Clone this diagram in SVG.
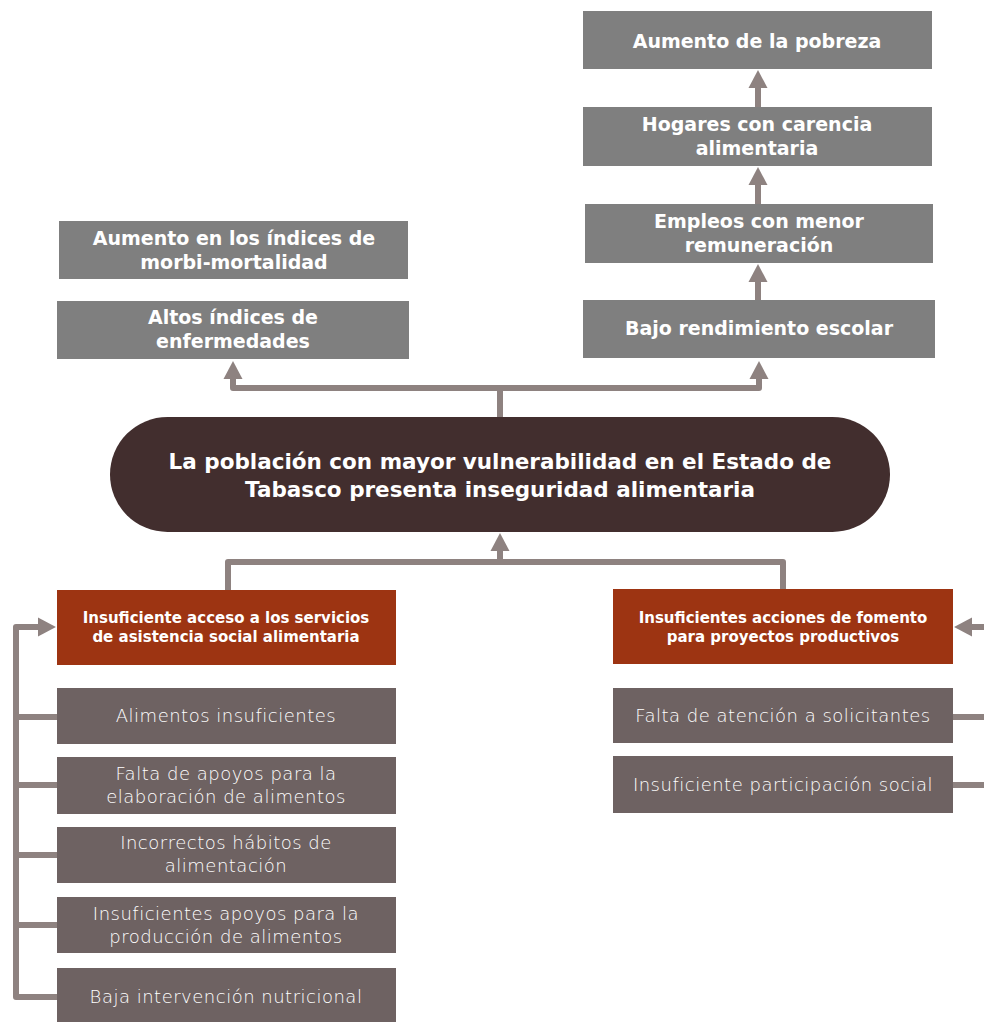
<svg xmlns="http://www.w3.org/2000/svg" width="984" height="1022" viewBox="0 0 984 1022">
<defs>
<marker id="ah" markerUnits="userSpaceOnUse" markerWidth="18" markerHeight="20" refX="1" refY="9" orient="auto" viewBox="0 0 17 18">
<path d="M0,0 L17,9 L0,18 z" fill="#8e8280"/>
</marker>
<style>
.eff{fill:#7f7f7f}
.cau{fill:#6e6262}
.org{fill:#9d3412}
.pill{fill:#422e2e}
.tb{font-family:"DejaVu Sans","Open Sans",sans-serif;font-weight:700;fill:#ffffff;text-anchor:middle}
.tl{font-family:"DejaVu Sans","Open Sans",sans-serif;font-weight:200;fill:#ffffff;text-anchor:middle;font-size:18px;letter-spacing:0.5px}
.e{font-size:19px}
.o{font-size:15px}
.p{font-size:21.5px}
.c{fill:none;stroke:#8e8280;stroke-width:6;stroke-linejoin:round}
</style>
</defs>
<g id="connectors">
<path class="c" d="M758,107 V87" marker-end="url(#ah)"/>
<path class="c" d="M758,204 V184" marker-end="url(#ah)"/>
<path class="c" d="M758,300 V281" marker-end="url(#ah)"/>
<path class="c" d="M500,417 V388 H233 V378" marker-end="url(#ah)"/>
<path class="c" d="M500,388 H759 V378" marker-end="url(#ah)"/>
<path class="c" d="M228,590 V562 H783 V590"/>
<path class="c" d="M500,562 V550" marker-end="url(#ah)"/>
<path class="c" d="M57,717 H16 V627 H39" marker-end="url(#ah)"/>
<path class="c" d="M57,785 H16"/>
<path class="c" d="M57,855 H16"/>
<path class="c" d="M57,925 H16"/>
<path class="c" d="M57,997 H16 V717"/>
<path class="c" d="M984,627 H971" marker-end="url(#ah)"/>
<path class="c" d="M953,717 H984"/>
<path class="c" d="M953,785 H984"/>
</g>
<g id="n-pobreza"><rect class="eff" x="583" y="11" width="349" height="58"/><text class="tb e" x="757" y="48">Aumento de la pobreza</text></g>
<g id="n-hogares"><rect class="eff" x="583" y="107" width="349" height="59"/><text class="tb e" x="757" y="131">Hogares con carencia</text><text class="tb e" x="757" y="155">alimentaria</text></g>
<g id="n-empleos"><rect class="eff" x="585" y="204" width="348" height="59"/><text class="tb e" x="759" y="228">Empleos con menor</text><text class="tb e" x="759" y="252">remuneración</text></g>
<g id="n-bajo"><rect class="eff" x="583" y="300" width="352" height="58"/><text class="tb e" x="759" y="335">Bajo rendimiento escolar</text></g>
<g id="n-morbi"><rect class="eff" x="59" y="221" width="349" height="58"/><text class="tb e" x="234" y="245">Aumento en los índices de</text><text class="tb e" x="234" y="269">morbi-mortalidad</text></g>
<g id="n-altos"><rect class="eff" x="57" y="301" width="352" height="58"/><text class="tb e" x="233" y="324">Altos índices de</text><text class="tb e" x="233" y="348">enfermedades</text></g>
<g id="n-central"><rect class="pill" x="110" y="417" width="780" height="115" rx="57.5"/><text class="tb p" x="500" y="469">La población con mayor vulnerabilidad en el Estado de</text><text class="tb p" x="500" y="497">Tabasco presenta inseguridad alimentaria</text></g>
<g id="n-acceso"><rect class="org" x="57" y="590" width="339" height="75"/><text class="tb o" x="226" y="623">Insuficiente acceso a los servicios</text><text class="tb o" x="226" y="642">de asistencia social alimentaria</text></g>
<g id="n-fomento"><rect class="org" x="613" y="589" width="340" height="75"/><text class="tb o" x="783" y="623">Insuficientes acciones de fomento</text><text class="tb o" x="783" y="642">para  proyectos productivos</text></g>
<g id="n-alimentos"><rect class="cau" x="57" y="688" width="339" height="56"/><text class="tl" x="226" y="722">Alimentos insuficientes</text></g>
<g id="n-elaboracion"><rect class="cau" x="57" y="757" width="339" height="57"/><text class="tl" x="226" y="780">Falta de apoyos para la</text><text class="tl" x="226" y="803">elaboración de alimentos</text></g>
<g id="n-habitos"><rect class="cau" x="57" y="827" width="339" height="56"/><text class="tl" x="226" y="849">Incorrectos hábitos de</text><text class="tl" x="226" y="872">alimentación</text></g>
<g id="n-produccion"><rect class="cau" x="57" y="897" width="339" height="56"/><text class="tl" x="226" y="920">Insuficientes apoyos para la</text><text class="tl" x="226" y="943">producción de alimentos</text></g>
<g id="n-nutricional"><rect class="cau" x="57" y="968" width="339" height="54"/><text class="tl" x="226" y="1003">Baja intervención nutricional</text></g>
<g id="n-solicitantes"><rect class="cau" x="613" y="688" width="340" height="55"/><text class="tl" x="783" y="722">Falta de atención a solicitantes</text></g>
<g id="n-participacion"><rect class="cau" x="613" y="756" width="340" height="57"/><text class="tl" x="783" y="791">Insuficiente participación social</text></g>
</svg>
